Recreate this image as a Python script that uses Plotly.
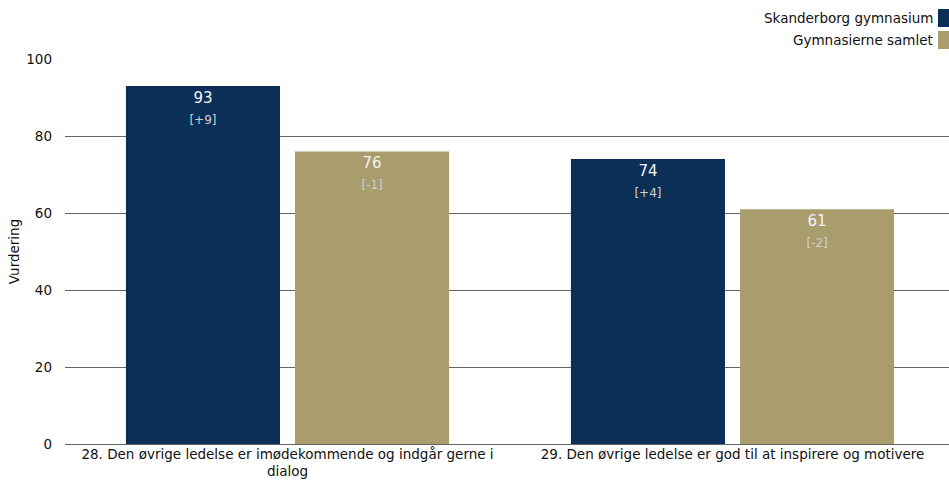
import plotly.graph_objects as go

categories = ["28. Den øvrige ledelse er imødekommende og indgår gerne i<br>dialog",
              "29. Den øvrige ledelse er god til at inspirere og motivere"]
series_names = ["Skanderborg gymnasium", "Gymnasierne samlet"]
values_school = [93, 74]
values_all = [76, 61]
diff_school = ["+9", "+4"]
diff_all = ["-1", "-2"]
colors = ["#0b2f57", "#a99c6d"]
y_ticks = [0, 20, 40, 60, 80, 100]

FONT = "DejaVu Sans"

fig = go.Figure()
for name, vals, diffs, col in [(series_names[0], values_school, diff_school, colors[0]),
                                (series_names[1], values_all, diff_all, colors[1])]:
    fig.add_trace(go.Bar(
        x=categories, y=vals, name=name, marker=dict(color=col, line=dict(width=0)),
        text=[f"<span style='font-size:15px'>{v}</span><br><span style='font-size:12px;color:#d0d0d0'>[{d}]</span>"
              for v, d in zip(vals, diffs)],
        texttemplate="%{text}",
        textposition="inside", insidetextanchor="end",
        textfont=dict(family=FONT, size=16, color="#f4f4f4"),
        textangle=0, cliponaxis=False, showlegend=False, hoverinfo="skip",
    ))

fig.update_layout(
    width=949, height=484,
    margin=dict(l=65, r=0, t=59, b=40),
    plot_bgcolor="white", paper_bgcolor="white",
    barmode="group", bargap=0.24, bargroupgap=0.089,
    font=dict(family=FONT, size=13.5, color="#222"),
    uniformtext=dict(mode=False),
)
fig.update_xaxes(range=[-0.5, 1.4865], showgrid=False, ticks="", showline=False,
                 tickfont=dict(family=FONT, size=13.5, color="#111"))
fig.update_yaxes(range=[0, 100], tickvals=y_ticks, showgrid=True, gridcolor="#666", gridwidth=1,
                 zeroline=True, zerolinecolor="#666", zerolinewidth=1,
                 ticks="", ticklabelstandoff=12,
                 tickfont=dict(family=FONT, size=13.5, color="#111"),
                 title=dict(text="Vurdering", font=dict(family=FONT, size=13.5, color="#111"), standoff=3))

legend_y = [18, 40]
for i, (name, col) in enumerate(zip(series_names, colors)):
    fig.add_annotation(xref="paper", yref="paper", x=(935 - 65) / 884, y=(484 - 40 - legend_y[i]) / 385,
                       text=name, showarrow=False, xanchor="right", yanchor="middle",
                       font=dict(family=FONT, size=13.5, color="#111"))
    top = legend_y[i] - 9
    fig.add_shape(type="rect", xref="paper", yref="paper",
                  x0=(938 - 65) / 884, x1=(949 - 65) / 884,
                  y0=(484 - 40 - (top + 18)) / 385, y1=(484 - 40 - top) / 385,
                  fillcolor=col, line=dict(width=0))

fig.write_html("out.html")
